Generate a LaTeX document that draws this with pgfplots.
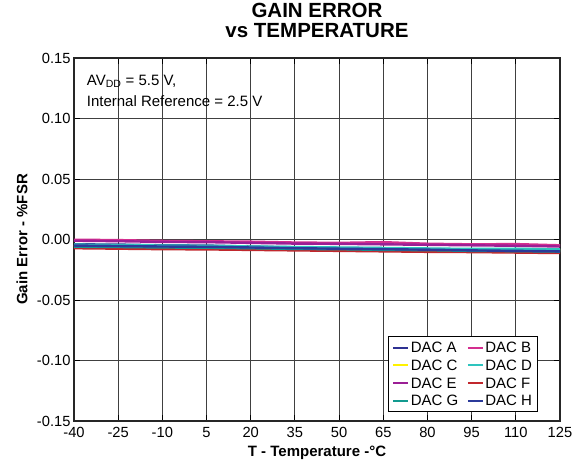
\documentclass[border=0pt]{standalone}
\usepackage{fontspec}
\setmainfont{Liberation Sans}
\usepackage{pgfplots}
\pgfplotsset{compat=1.18}
\definecolor{dacA}{HTML}{2E3192}
\definecolor{dacB}{HTML}{D42E8F}
\definecolor{dacC}{HTML}{FFF200}
\definecolor{dacD}{HTML}{2EC4BE}
\definecolor{dacE}{HTML}{9B1F95}
\definecolor{dacF}{HTML}{C1272D}
\definecolor{dacG}{HTML}{129A8F}
\definecolor{dacH}{HTML}{2B3A9A}
\begin{document}
\begin{tikzpicture}
\begin{axis}[
    scale only axis,
    width=486pt, height=363pt,
    xmin=-40, xmax=125, ymin=-0.15, ymax=0.15,
    xtick={-40,-25,...,125},
    ytick={-0.15,-0.10,...,0.16},
    grid=major,
    major grid style={black!75, line width=0.9pt},
    axis line style={line width=1.3pt, black!85},
    tick style={black, line width=0.9pt},
    tick align=inside,
    major tick length=6pt,
    font=\fontsize{14.7}{16}\selectfont,
    /pgf/number format/assume math mode=true,
    yticklabel style={/pgf/number format/fixed, /pgf/number format/fixed zerofill, /pgf/number format/precision=2},
    xticklabel style={yshift=-2.5pt},
    scaled y ticks=false,
    xlabel={\bfseries T - Temperature -°C},
    ylabel={\bfseries Gain Error - \%FSR},
    xlabel style={at={(axis description cs:0.5,-0.0868)}, anchor=center, font=\fontsize{15}{16}\selectfont},
    ylabel style={at={(axis description cs:-0.107,0.5)}, anchor=center, font=\fontsize{15}{16}\selectfont},
    title={\bfseries GAIN ERROR\\\bfseries vs TEMPERATURE},
    title style={at={(axis description cs:0.5,1)}, anchor=south, inner sep=0pt, yshift=14pt,
        align=center, font=\fontsize{20.5}{20}\selectfont},
    legend columns=2,
    legend style={at={(0.9547,0.0248)}, anchor=south east, draw=black, line width=1pt,
        font=\fontsize{15}{16}\selectfont, row sep=4.2pt, inner sep=4pt,
        nodes={inner sep=1.5pt, text height=10.5pt, text depth=0pt},
        /tikz/every even column/.append style={column sep=7pt}},
    legend cell align=left,
    legend image code/.code={\draw[#1, line width=2pt] (0pt,0pt) -- (15pt,0pt);},
    every axis plot/.append style={line width=2.4pt},
]
\addplot[dacA] coordinates {(-40,-0.0040) (-25,-0.0042) (-10,-0.0048) (5,-0.0050) (20,-0.0058) (35,-0.0065) (50,-0.0070) (65,-0.0072) (80,-0.0078) (95,-0.0085) (110,-0.0088) (125,-0.0090)};
\addplot[dacB] coordinates {(-40,-0.0002) (-25,-0.0005) (-10,-0.0012) (5,-0.0015) (20,-0.0018) (35,-0.0025) (50,-0.0028) (65,-0.0022) (80,-0.0035) (95,-0.0040) (110,-0.0038) (125,-0.0048)};
\addplot[dacC] coordinates {(-40,-0.0050) (-25,-0.0052) (-10,-0.0056) (5,-0.0058) (20,-0.0064) (35,-0.0070) (50,-0.0074) (65,-0.0078) (80,-0.0082) (95,-0.0086) (110,-0.0088) (125,-0.0090)};
\addplot[dacD] coordinates {(-40,-0.0042) (-25,-0.0046) (-10,-0.0050) (5,-0.0052) (20,-0.0058) (35,-0.0062) (50,-0.0066) (65,-0.0070) (80,-0.0074) (95,-0.0078) (110,-0.0076) (125,-0.0082)};
\addplot[dacE] coordinates {(-40,-0.0010) (-25,-0.0014) (-10,-0.0020) (5,-0.0022) (20,-0.0028) (35,-0.0034) (50,-0.0036) (65,-0.0040) (80,-0.0044) (95,-0.0048) (110,-0.0052) (125,-0.0058)};
\addplot[dacF] coordinates {(-40,-0.0072) (-25,-0.0076) (-10,-0.0080) (5,-0.0082) (20,-0.0086) (35,-0.0090) (50,-0.0094) (65,-0.0098) (80,-0.0102) (95,-0.0104) (110,-0.0108) (125,-0.0112)};
\addplot[dacG] coordinates {(-40,-0.0060) (-25,-0.0062) (-10,-0.0066) (5,-0.0068) (20,-0.0072) (35,-0.0078) (50,-0.0080) (65,-0.0086) (80,-0.0088) (95,-0.0094) (110,-0.0096) (125,-0.0100)};
\addplot[dacH] coordinates {(-40,-0.0050) (-25,-0.0054) (-10,-0.0058) (5,-0.0060) (20,-0.0066) (35,-0.0072) (50,-0.0076) (65,-0.0080) (80,-0.0084) (95,-0.0090) (110,-0.0094) (125,-0.0098)};
\legend{DAC A, DAC B, DAC C, DAC D, DAC E, DAC F, DAC G, DAC H}
\node[anchor=base west, inner sep=0pt, font=\fontsize{15}{16}\selectfont] at (axis description cs:0.0261,0.9256) {AV\textsubscript{DD} = 5.5 V,};
\node[anchor=base west, inner sep=0pt, font=\fontsize{15}{16}\selectfont] at (axis description cs:0.0261,0.865) {Internal Reference = 2.5 V};
\end{axis}
\pgfresetboundingbox
\path ([shift={(-74pt,-43pt)}]current axis.south west) rectangle ([shift={(20pt,58pt)}]current axis.north east);
\end{tikzpicture}
\end{document}
